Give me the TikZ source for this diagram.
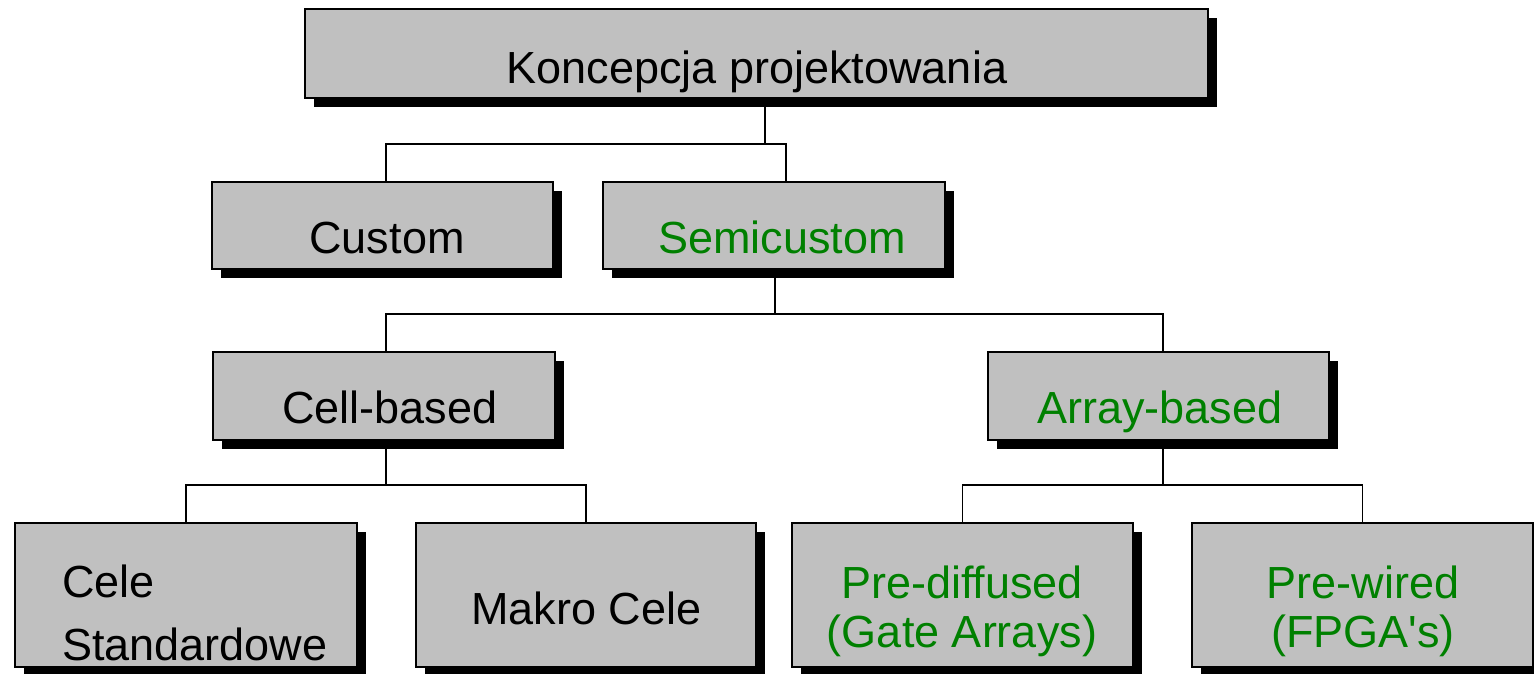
\documentclass[tikz,border=0pt]{standalone}
\usepackage{fontspec}
\setmainfont{Liberation Sans}
\usetikzlibrary{shadows}
\definecolor{boxgray}{RGB}{192,192,192}
\definecolor{labelgreen}{RGB}{0,128,0}
\begin{document}
\begin{tikzpicture}[x=1pt,y=-1pt,
  box/.style={draw=black, line width=1.6pt, fill=boxgray, rectangle, inner sep=0pt,
    drop shadow={shadow xshift=9pt, shadow yshift=-9pt, fill=black, opacity=1}},
  lbl/.style={font=\fontsize{45}{50}\selectfont, inner sep=0pt, anchor=base},
  lblg/.style={lbl, text=labelgreen},
  conn/.style={draw=black, line width=1.6pt}]
\useasboundingbox (0,0) rectangle (1534,674);

% boxes
\node[box, minimum width=903, minimum height=89] (top)   at (756.5,53.5) {};
\node[box, minimum width=341, minimum height=87] (custom) at (382.5,225.5) {};
\node[box, minimum width=342, minimum height=87] (semi)   at (774,225.5) {};
\node[box, minimum width=342, minimum height=88] (cell)   at (384,396) {};
\node[box, minimum width=341, minimum height=88] (array)  at (1158.5,396) {};
\node[box, minimum width=342, minimum height=144] (cele)  at (186,595) {};
\node[box, minimum width=340, minimum height=144] (makro) at (586,595) {};
\node[box, minimum width=341, minimum height=144] (pred)  at (962.5,595) {};
\node[box, minimum width=341, minimum height=144] (prew)  at (1362.5,595) {};

% labels
\node[lbl]  (topT)    at (757,84)   {Koncepcja projektowania};
\node[lbl]  (customT) at (387,253)  {Custom};
\node[lblg] (semiT)   at (782,253)  {Semicustom};
\node[lbl]  (cellT)   at (390,423)  {Cell-based};
\node[lblg] (arrayT)  at (1160,423) {Array-based};
\node[lbl, anchor=base west] (celeA) at (62,597) {Cele};
\node[lbl, anchor=base west] (celeB) at (62,660) {Standardowe};
\node[lbl]  (makroT)  at (586.5,624) {Makro Cele};
\node[lblg] (predA)   at (962,598)  {Pre-diffused};
\node[lblg] (predB)   at (962,647)  {(Gate Arrays)};
\node[lblg] (prewA)   at (1363,598) {Pre-wired};
\node[lblg] (prewB)   at (1363,647) {(FPGA\textquotesingle s)};

% bus levels
\coordinate (bus1) at (0,144);
\coordinate (bus2) at (0,314);
\coordinate (bus3) at (0,485);

% connectors
\draw[conn] ([xshift=8.5]top.south) -- ([xshift=8.5]top.south |- bus1);
\draw[conn] ([xshift=3.5]custom.north) |- ([xshift=12]semi.north |- bus1) -- ([xshift=12]semi.north);

\draw[conn] ([xshift=1]semi.south) -- ([xshift=1]semi.south |- bus2);
\draw[conn] ([xshift=2]cell.north) |- ([xshift=4.5]array.north |- bus2) -- ([xshift=4.5]array.north);

\draw[conn] ([xshift=2]cell.south) -- ([xshift=2]cell.south |- bus3);
\draw[conn] (cele.north) |- (makro.north |- bus3) -- (makro.north);

\draw[conn] ([xshift=4.5]array.south) -- ([xshift=4.5]array.south |- bus3);
\draw[conn] (pred.north) |- (prew.north |- bus3) -- (prew.north);
\end{tikzpicture}
\end{document}
